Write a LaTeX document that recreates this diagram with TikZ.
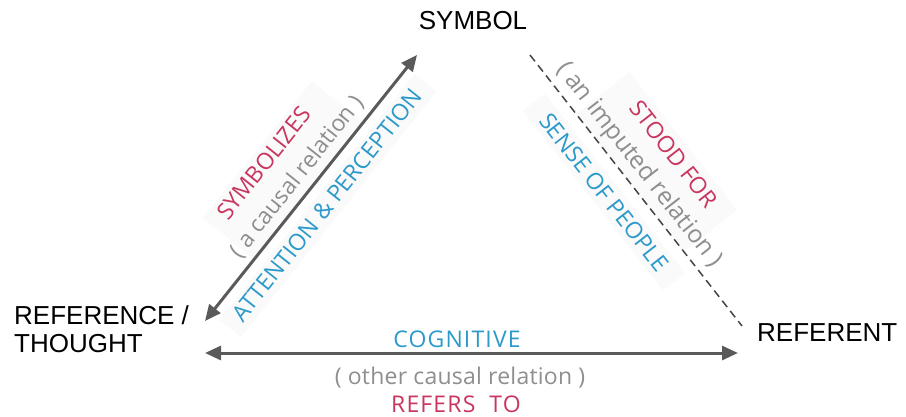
\documentclass[tikz,border=0pt]{standalone}
\usepackage{fontspec}
\setmainfont{Liberation Sans}
\newfontfamily\relfont{Open Sans}
\usetikzlibrary{arrows.meta}
\definecolor{arrowgray}{HTML}{5A5A5A}
\definecolor{dashgray}{HTML}{444444}
\definecolor{relred}{HTML}{C8365E}
\definecolor{relblue}{HTML}{2B9ACA}
\definecolor{relgray}{HTML}{8E8E8E}
\definecolor{tagfill}{HTML}{FAFAFA}
\tikzset{
  term/.style={font=\fontsize{26}{28}\selectfont, inner sep=0pt, text=black},
  rel/.style={font=\relfont\fontsize{23}{25}\selectfont, inner sep=1pt},
  widecaps/.style={font=\relfont\fontsize{23}{25}\selectfont\addfontfeatures{LetterSpace=5}},
  widelower/.style={font=\relfont\fontsize{23}{25}\selectfont\addfontfeatures{LetterSpace=1}},
  relname/.style={rel, text=relred},
  relkind/.style={rel, text=relgray},
  relhow/.style={rel, text=relblue},
  solidlink/.style={draw=arrowgray, line width=3pt,
    {Triangle[length=16pt,width=14pt]}-{Triangle[length=16pt,width=14pt]}},
  dashlink/.style={draw=dashgray, line width=1.5pt, dash pattern=on 8pt off 5pt}
}
\begin{document}
\begin{tikzpicture}[x=1pt,y=-1pt]
\useasboundingbox (0,0) rectangle (906,416);

% faint highlight boxes behind the relation labels
\fill[tagfill, rotate around={51.5:(282,170)}] (195,138) rectangle (370,202);
\fill[tagfill, rotate around={51.5:(327,205)}] (170,192) rectangle (484,220);
\fill[tagfill, rotate around={-52:(655,160)}] (570,126) rectangle (745,194);
\fill[tagfill, rotate around={-52:(604,192)}] (490,178) rectangle (718,206);

% the three corners
\node[term] (symbol) at (473,21) {SYMBOL};
\node[term, anchor=west, align=left] (thought) at (14,329) {REFERENCE /\\THOUGHT};
\node[term, anchor=west] (referent) at (757,333) {REFERENT};

% connector ends
\coordinate (thoughtUp) at (205,321);
\coordinate (symbolLeft) at (417,55);
\coordinate (symbolRight) at (530,55);
\coordinate (referentUp) at (742,326);
\coordinate (thoughtRight) at (205,353);
\coordinate (referentLeft) at (738,353);

% relation labels along the left side
\node[relname, rotate=51.5] (symbolizes) at (264,163) {SYMBOLIZES};
\node[relkind, rotate=51.5] (causal) at (297,177) {( a causal relation )};
\node[relhow, rotate=51.5] (attention) at (327,205) {ATTENTION \& PERCEPTION};

% relation labels along the right side
\node[relname, rotate=-52] (stood) at (674,154) {STOOD FOR};
\node[relkind, rotate=-52, font=\relfont\fontsize{24.5}{26}\selectfont] (imputed) at (639,165) {( an imputed relation )};
\node[relhow, rotate=-52] (sense) at (604,192) {SENSE OF PEOPLE};

% relation labels along the bottom
\node[relhow, widecaps] (cognitive) at (457,339) {COGNITIVE};
\node[relkind, widelower] (other) at (460,378) {( other causal relation )};
\node[relname, widecaps] (refers) at (456,404) {REFERS\hspace{0.3em} TO};

% connectors
\draw[solidlink] (thoughtUp) -- (symbolLeft);
\draw[dashlink] (symbolRight) -- (referentUp);
\draw[solidlink] (thoughtRight) -- (referentLeft);
\end{tikzpicture}
\end{document}
